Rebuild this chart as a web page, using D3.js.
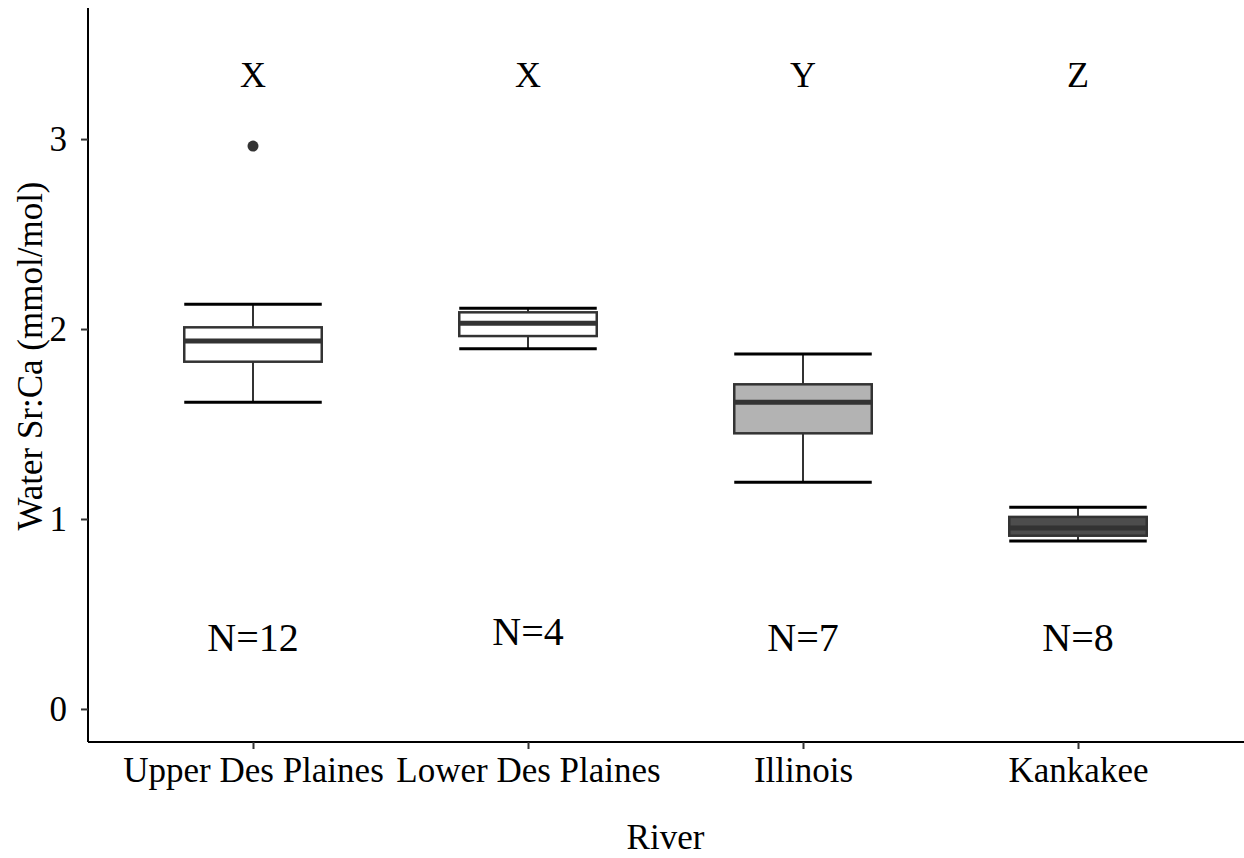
<!DOCTYPE html>
<html>
<head>
<meta charset="utf-8">
<script src="https://cdn.jsdelivr.net/npm/d3@7"></script>
<style>
  body { margin: 0; background: #fff; }
  svg text { font-family: "Liberation Serif", "Times New Roman", serif; fill: #000; }
</style>
</head>
<body>
<script>
var w = 1244;
var h = 858;

// data
var rivers = ["Upper Des Plaines", "Lower Des Plaines", "Illinois", "Kankakee"];
var whiskerLow = [1.614, 1.896, 1.193, 0.884];
var q1 = [1.828, 1.963, 1.451, 0.912];
var medians = [1.937, 2.03, 1.614, 0.953];
var q3 = [2.009, 2.088, 1.709, 1.011];
var whiskerHigh = [2.13, 2.109, 1.868, 1.062];
var outliers = [{ river: "Upper Des Plaines", value: 2.963 }];
var groupLetters = ["X", "X", "Y", "Z"];
var sampleSizes = ["N=12", "N=4", "N=7", "N=8"];
var nLabelY = [0.38, 0.41, 0.38, 0.38];
var boxFills = ["#ffffff", "#ffffff", "#b3b3b3", "#4d4d4d"];
var yTicks = [0, 1, 2, 3];

// panel edges (named to avoid clashing with window.top)
var panelLeft = 88, panelRight = 1243, panelTop = 8, panelBottom = 742;

var svg = d3.select("body").append("svg")
    .attr("width", w)
    .attr("height", h);

var y = d3.scaleLinear()
    .domain([-0.174, 3.69])
    .range([panelBottom, panelTop]);

// discrete axis with ggplot-like 0.6 expansion
var x = d3.scalePoint()
    .domain(rivers)
    .range([panelLeft, panelRight])
    .padding(0.6);
var step = x.step();
var boxW = step * 0.5;

var boxes = rivers.map(function(r, i) {
    return { river: r, lo: whiskerLow[i], q1: q1[i], med: medians[i], q3: q3[i], hi: whiskerHigh[i], fill: boxFills[i] };
});

var g = svg.selectAll("g.box")
    .data(boxes)
    .enter()
    .append("g")
    .attr("class", "box");

// whisker stems
g.append("line")
    .attr("x1", function(d) { return x(d.river); })
    .attr("x2", function(d) { return x(d.river); })
    .attr("y1", function(d) { return y(d.hi); })
    .attr("y2", function(d) { return y(d.lo); })
    .attr("stroke", "#333")
    .attr("stroke-width", 2);

// caps
g.selectAll("line.cap")
    .data(function(d) { return [{ river: d.river, v: d.hi }, { river: d.river, v: d.lo }]; })
    .enter()
    .append("line")
    .attr("class", "cap")
    .attr("x1", function(d) { return x(d.river) - boxW / 2; })
    .attr("x2", function(d) { return x(d.river) + boxW / 2; })
    .attr("y1", function(d) { return y(d.v); })
    .attr("y2", function(d) { return y(d.v); })
    .attr("stroke", "#000")
    .attr("stroke-width", 3);

g.append("rect")
    .attr("x", function(d) { return x(d.river) - boxW / 2; })
    .attr("width", boxW)
    .attr("y", function(d) { return y(d.q3); })
    .attr("height", function(d) { return y(d.q1) - y(d.q3); })
    .attr("fill", function(d) { return d.fill; })
    .attr("stroke", "#333")
    .attr("stroke-width", 2.5);

g.append("line")
    .attr("x1", function(d) { return x(d.river) - boxW / 2; })
    .attr("x2", function(d) { return x(d.river) + boxW / 2; })
    .attr("y1", function(d) { return y(d.med); })
    .attr("y2", function(d) { return y(d.med); })
    .attr("stroke", "#333")
    .attr("stroke-width", 5);

svg.selectAll("circle.out")
    .data(outliers)
    .enter()
    .append("circle")
    .attr("cx", function(d) { return x(d.river); })
    .attr("cy", function(d) { return y(d.value); })
    .attr("r", 5.5)
    .attr("fill", "#333");

// letters and sample sizes
svg.selectAll("text.letter")
    .data(groupLetters)
    .enter()
    .append("text")
    .attr("class", "letter")
    .attr("x", function(d, i) { return x(rivers[i]); })
    .attr("y", 87)
    .attr("text-anchor", "middle")
    .attr("font-size", "36px")
    .text(function(d) { return d; });

svg.selectAll("text.n")
    .data(sampleSizes)
    .enter()
    .append("text")
    .attr("class", "n")
    .attr("x", function(d, i) { return x(rivers[i]); })
    .attr("y", function(d, i) { return y(nLabelY[i]); })
    .attr("dy", "0.35em")
    .attr("text-anchor", "middle")
    .attr("font-size", "40px")
    .text(function(d) { return d; });

// axes
var yAxis = svg.append("g")
    .attr("transform", "translate(" + panelLeft + ",0)")
    .call(d3.axisLeft(y).tickValues(yTicks).tickSize(7).tickPadding(14).tickFormat(d3.format("d")));
yAxis.select(".domain").attr("stroke", "#000").attr("stroke-width", 2)
    .attr("d", "M0," + panelTop + "V" + panelBottom);
yAxis.selectAll(".tick line").attr("stroke", "#333").attr("stroke-width", 2);
yAxis.selectAll(".tick text").attr("font-size", "35px").attr("font-family", "Liberation Serif").attr("fill", "#000");

var xAxis = svg.append("g")
    .attr("transform", "translate(0," + panelBottom + ")")
    .call(d3.axisBottom(x).tickSize(7).tickPadding(8));
xAxis.select(".domain").attr("stroke", "#000").attr("stroke-width", 2)
    .attr("d", "M" + panelLeft + ",0H" + w);
xAxis.selectAll(".tick line").attr("stroke", "#333").attr("stroke-width", 2);
xAxis.selectAll(".tick text").attr("font-size", "35px").attr("font-family", "Liberation Serif").attr("fill", "#000");

svg.append("text")
    .attr("x", (panelLeft + panelRight) / 2)
    .attr("y", 849)
    .attr("text-anchor", "middle")
    .attr("font-size", "35px")
    .text("River");

svg.append("text")
    .attr("transform", "translate(42,356) rotate(-90)")
    .attr("text-anchor", "middle")
    .attr("font-size", "35px")
    .text("Water Sr:Ca (mmol/mol)");
</script>
</body>
</html>
